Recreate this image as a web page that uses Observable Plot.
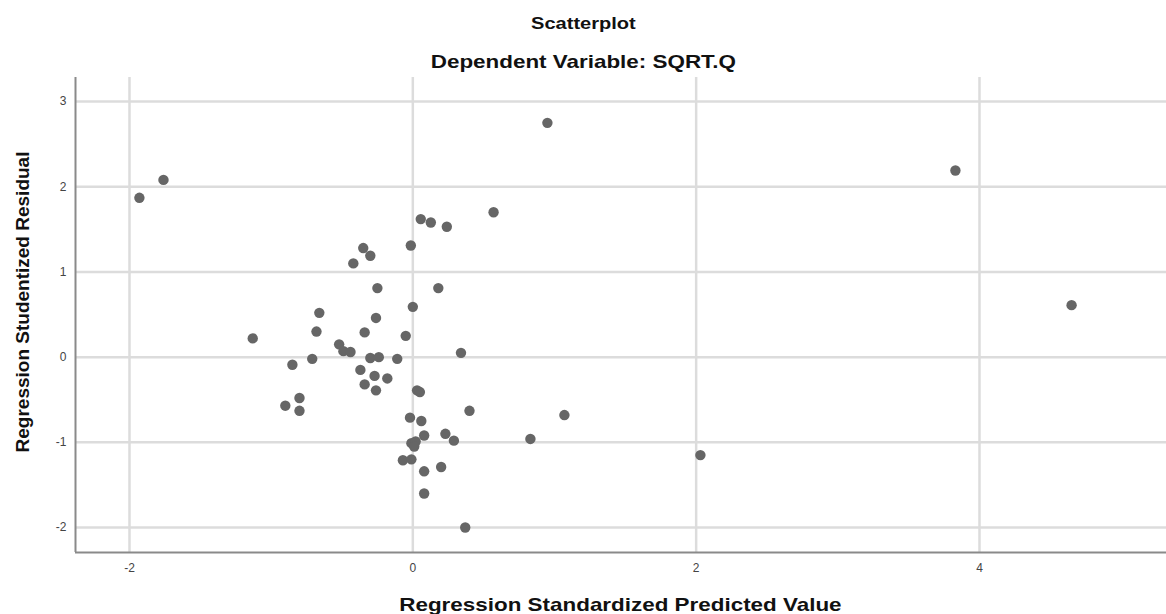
<!DOCTYPE html>
<html><head><meta charset="utf-8">
<script src="https://cdn.jsdelivr.net/npm/d3@7"></script>
<script src="https://cdn.jsdelivr.net/npm/@observablehq/plot@0.6"></script>
<style>
html,body{margin:0;padding:0;background:#fff;overflow:hidden;}
#wrap{width:1166px;height:614px;overflow:hidden;font-family:"Liberation Sans",Arial,sans-serif;}
.t{text-align:center;font-weight:bold;color:#111;white-space:nowrap;}
.t span{display:inline-block;transform:scaleX(1.18);}
#title{height:48px;line-height:48px;font-size:17px;}
#sub{height:27px;line-height:27px;font-size:19px;}
#xt{height:29px;line-height:29px;font-size:19px;padding-left:75px;}
svg{display:block}
</style></head>
<body><div id="wrap">
<div id="title" class="t"><span>Scatterplot</span></div>
<div id="sub" class="t"><span>Dependent Variable: SQRT.Q</span></div>
<div id="chart"></div>
<div id="xt" class="t"><span>Regression Standardized Predicted Value</span></div>
</div>
<script>
const yTitle = "Regression Studentized Residual";
const xTicks = [-2, 0, 2, 4];
const yTicks = [-2, -1, 0, 1, 2, 3];
const xDomain = [-2.381, 5.32];
const yDomain = [-2.293, 3.282];

const predicted = [
  -1.93, -1.76, 0.95, 3.83, 4.65, 0.57, 0.056, 0.127, 0.24, -0.014,
  -0.35, -0.30, -0.42, -0.25, 0.18, 0.0, -0.66, -0.26, -1.13, -0.68,
  -0.34, -0.05, -0.52, -0.49, -0.44, 0.34, -0.71, -0.85, -0.30, -0.24,
  -0.11, -0.37, -0.27, -0.18, -0.34, -0.26, 0.03, 0.05, -0.80, -0.90,
  -0.80, 0.40, -0.02, 0.06, 0.23, 0.08, 0.29, -0.01, 0.02, 0.01,
  -0.07, -0.01, 0.08, 0.20, 0.08, 0.37, 0.83, 1.07, 2.03
];
const residual = [
  1.87, 2.08, 2.75, 2.19, 0.61, 1.70, 1.62, 1.58, 1.53, 1.31,
  1.28, 1.19, 1.10, 0.81, 0.81, 0.59, 0.52, 0.46, 0.22, 0.30,
  0.29, 0.25, 0.15, 0.07, 0.06, 0.05, -0.02, -0.09, -0.01, 0.0,
  -0.02, -0.15, -0.22, -0.25, -0.32, -0.39, -0.39, -0.41, -0.48, -0.57,
  -0.63, -0.63, -0.71, -0.75, -0.90, -0.92, -0.98, -1.01, -0.99, -1.05,
  -1.21, -1.20, -1.34, -1.29, -1.60, -2.00, -0.96, -0.68, -1.15
];

const points = predicted.map((x, i) => ({x, y: residual[i]}));
const fmt = d => String(d);

const plot = Plot.plot({
  width: 1166,
  height: 515,
  marginTop: 2,
  marginBottom: 38,
  marginLeft: 75,
  marginRight: 0,
  style: {fontFamily: "Liberation Sans, Arial, sans-serif", background: "#fff", overflow: "visible"},
  x: {domain: xDomain},
  y: {domain: yDomain},
  marks: [
    Plot.ruleX(xTicks, {stroke: "#dcdcdc", strokeWidth: 2.5}),
    Plot.ruleY(yTicks, {stroke: "#dcdcdc", strokeWidth: 2.5}),
    Plot.ruleX([xDomain[0]], {stroke: "#8a8a8a", strokeWidth: 2}),
    Plot.ruleY([yDomain[0]], {stroke: "#8a8a8a", strokeWidth: 2}),
    Plot.axisX(xTicks, {tickSize: 0, tickPadding: 11, fontSize: 12, color: "#444", label: null, tickFormat: fmt}),
    Plot.axisY(yTicks, {tickSize: 0, tickPadding: 9, fontSize: 12, color: "#444", label: null, tickFormat: fmt}),
    Plot.dot(points, {x: "x", y: "y", r: 5.2, fill: "#666", stroke: "none"}),
    Plot.text([yTitle], {text: d => d, frameAnchor: "left", textAnchor: "middle", dx: -53, dy: -13, rotate: -90, fontSize: 19, fontWeight: "bold", fill: "#111"})
  ]
});
document.getElementById("chart").appendChild(plot);
</script>
</body></html>
